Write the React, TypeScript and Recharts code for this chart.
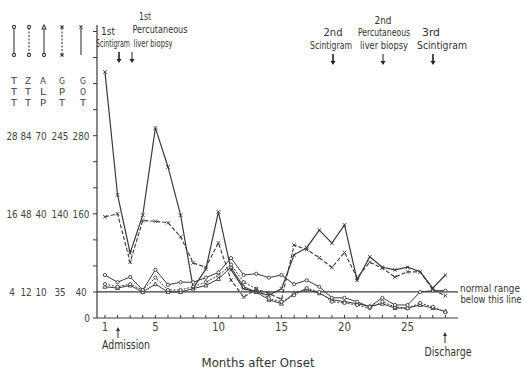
import React from 'react';
import { LineChart, Line, XAxis, YAxis, ReferenceLine } from 'recharts';

// Months after onset
const months = [1, 2, 3, 4, 5, 6, 7, 8, 9, 10, 11, 12, 13, 14, 15, 16, 17, 18, 19, 20, 21, 22, 23, 24, 25, 26, 27, 28];

// Values in their own units
const tttValues = [6.6, 5.5, 6.3, 4.3, 7.4, 5.1, 5.5, 5.5, 6.2, 7.0, 9.2, 6.6, 6.8, 6.2, 6.6, 5.2, 5.8, 4.8, 3.1, 3.1, 2.5, 1.7, 3.1, 2.0, 2.0, 4.0, 4.2, 4.2];
const zttValues = [15.6, 14.4, 15.6, 12.9, 18.6, 12.9, 12.9, 14.4, 16.5, 19.5, 24.6, 16.5, 13.5, 9.0, 7.5, 10.5, 13.8, 12.0, 7.5, 6.9, 6.0, 4.5, 7.5, 5.1, 4.5, 6.9, 5.1, 2.7];
const alpValues = [12, 11.5, 12.5, 10, 13, 10, 10, 11.3, 12.5, 15, 19.5, 12, 10, 7, 5.5, 9.5, 11, 9.5, 7, 6.3, 5.5, 4.5, 5.5, 3.8, 3.8, 5, 3.8, 2.5];
const gptValues = [136, 140, 75, 131, 130, 128, 109, 74, 68, 101, 51, 28, 39, 33, 25, 98, 92, 81, 68, 88, 54, 75, 67, 55, 62, 62, 38, 30];
const gotValues = [378, 189, 100, 158, 292, 232, 158, 46, 75, 163, 74, 45, 40, 35, 45, 97, 108, 135, 115, 143, 58, 94, 78, 74, 78, 71, 46, 66];

// Scale factors onto the common (GOT) axis: 4|12|10|35 -> 40
const tttFactor = 10;
const zttFactor = 40 / 12;
const alpFactor = 4;
const gptFactor = 40 / 35;

// Tick labels of the multi-scale y axis (columns TTT, ZTT, ALP, GPT, GOT)
const yTickRows: Record<number, string[]> = {
  0: ['', '', '', '', '0'],
  40: ['4', '12', '10', '35', '40'],
  160: ['16', '48', '40', '140', '160'],
  280: ['28', '84', '70', '245', '280'],
};
const yTicks = [0, 40, 80, 120, 160, 200, 240, 280, 320, 360, 400, 440];
const xLabels = [1, 5, 10, 15, 20, 25];
const legendCols = [
  ['T', 'T', 'T'],
  ['Z', 'T', 'T'],
  ['A', 'L', 'P'],
  ['G', 'P', 'T'],
  ['G', 'O', 'T'],
];

const data = months.map((m, i) => ({
  month: m,
  TTT: tttValues[i] * tttFactor,
  ZTT: zttValues[i] * zttFactor,
  ALP: alpValues[i] * alpFactor,
  GPT: gptValues[i] * gptFactor,
  GOT: gotValues[i],
}));

const INK = '#3a3a3a';
const FONT = "'DejaVu Sans Condensed', 'Liberation Sans Narrow', 'DejaVu Sans', sans-serif";
const colCenters = [12, 26, 41, 60, 81];

const YTick = (props: any) => {
  const { y, payload } = props;
  const row = yTickRows[payload.value];
  return (
    <g>
      <line x1={93} x2={97} y1={y} y2={y} stroke={INK} strokeWidth={1} />
      {row &&
        row.map((t, i) =>
          t ? (
            <text
              key={i}
              x={colCenters[i] + (i === 4 && payload.value === 0 ? 6 : 0)}
              y={y + 4}
              textAnchor="middle"
              fontSize={11}
              fontFamily={FONT}
              fill="#444"
              textLength={t.length * 5.6}
              lengthAdjust="spacingAndGlyphs"
            >
              {t}
            </text>
          ) : null
        )}
    </g>
  );
};

const XTick = (props: any) => {
  const { x, y, payload } = props;
  const label = String(payload.value);
  return (
    <g>
      <line x1={x} x2={x} y1={y} y2={y - 3} stroke={INK} strokeWidth={1} />
      {xLabels.includes(payload.value) && (
        <text x={x} y={y + 13} textAnchor="middle" fontSize={12} fontFamily={FONT} fill="#444" textLength={label.length * 6.5} lengthAdjust="spacingAndGlyphs">
          {label}
        </text>
      )}
    </g>
  );
};

const CircleDot = (props: any) => {
  const { cx, cy, index } = props;
  if (cx == null || cy == null) return <g key={index} />;
  return <circle key={index} cx={cx} cy={cy} r={1.6} fill="#fff" stroke={INK} strokeWidth={0.9} />;
};
const CrossDot = (props: any) => {
  const { cx, cy, index } = props;
  if (cx == null || cy == null) return <g key={index} />;
  const s = 1.8;
  return (
    <path key={index} d={`M${cx - s},${cy - s}L${cx + s},${cy + s}M${cx - s},${cy + s}L${cx + s},${cy - s}`} stroke={INK} strokeWidth={0.9} fill="none" />
  );
};
const TriDot = (props: any) => {
  const { cx, cy, index } = props;
  if (cx == null || cy == null) return <g key={index} />;
  return <path key={index} d={`M${cx},${cy - 2.2}L${cx + 2},${cy + 1.5}L${cx - 2},${cy + 1.5}Z`} stroke={INK} strokeWidth={0.9} fill="#fff" />;
};

const Txt = ({ x, y, w, size = 10, children }: any) => (
  <text x={x} y={y} textAnchor="middle" fontSize={size} fontFamily={FONT} fill="#333" textLength={w} lengthAdjust="spacingAndGlyphs">
    {children}
  </text>
);
const ArrowDown = ({ x, y1, y2, thick }: any) => (
  <g>
    <line x1={x} x2={x} y1={y1} y2={y2 - 3} stroke="#222" strokeWidth={thick ? 1.6 : 1} />
    <path d={`M${x - 2.5},${y2 - 4}L${x + 2.5},${y2 - 4}L${x},${y2}Z`} fill="#222" />
  </g>
);
const ArrowUp = ({ x, y1, y2 }: any) => (
  <g>
    <line x1={x} x2={x} y1={y1 + 3} y2={y2} stroke="#333" strokeWidth={1} />
    <path d={`M${x - 2},${y1 + 4}L${x + 2},${y1 + 4}L${x},${y1}Z`} fill="#333" />
  </g>
);

const Overlay = () => (
  <svg width={525} height={372} style={{ position: 'absolute', left: 0, top: 0, pointerEvents: 'none' }}>
    {/* legend symbols */}
    <g stroke={INK} strokeWidth={1.1} fill="#fff">
      <line x1={14} x2={14} y1={28} y2={54} />
      <circle cx={14} cy={27} r={1.6} />
      <circle cx={14} cy={55} r={1.6} />
      <line x1={29} x2={29} y1={28} y2={54} strokeDasharray="2 1.5" />
      <circle cx={29} cy={27} r={1.6} />
      <circle cx={29} cy={55} r={1.6} />
      <line x1={44} x2={44} y1={28} y2={54} />
      <path d="M44,25L46,29L42,29Z" />
      <circle cx={44} cy={55} r={1.6} />
      <line x1={62} x2={62} y1={28} y2={54} strokeDasharray="2 1.5" />
      <path d="M60.5,25.5L63.5,28.5M60.5,28.5L63.5,25.5M60.5,53.5L63.5,56.5M60.5,56.5L63.5,53.5" fill="none" />
      <line x1={81} x2={81} y1={27} y2={55} />
      <path d="M79.5,25.5L82.5,28.5M79.5,28.5L82.5,25.5" fill="none" />
    </g>
    {legendCols.map((col, i) =>
      col.map((ch, j) => (
        <text
          key={`${i}-${j}`}
          x={colCenters[i] + 2}
          y={84 + j * 11.2}
          textAnchor="middle"
          fontSize={9.5}
          fontFamily={FONT}
          fill="#444"
          textLength={6}
          lengthAdjust="spacingAndGlyphs"
        >
          {ch}
        </text>
      ))
    )}
    {/* top annotations */}
    <Txt x={108} y={35} w={14} size={11}>1st</Txt>
    <Txt x={113} y={47} w={34}>Scintigram</Txt>
    <ArrowDown x={119} y1={52} y2={63} thick />
    <Txt x={145} y={20} w={12} size={11}>1st</Txt>
    <Txt x={160} y={33} w={55}>Percutaneous</Txt>
    <Txt x={153} y={47} w={39}>liver biopsy</Txt>
    <ArrowDown x={132} y1={52} y2={63} />
    <Txt x={333} y={36} w={19} size={11}>2nd</Txt>
    <Txt x={331} y={49} w={42}>Scintigram</Txt>
    <ArrowDown x={333} y1={54} y2={65} thick />
    <Txt x={383} y={24} w={17} size={11}>2nd</Txt>
    <Txt x={384} y={36} w={52}>Percutaneous</Txt>
    <Txt x={384} y={49} w={48}>liver biopsy</Txt>
    <ArrowDown x={383} y1={54} y2={65} />
    <Txt x={431} y={36} w={18} size={11}>3rd</Txt>
    <Txt x={442} y={49} w={50}>Scintigram</Txt>
    <ArrowDown x={433} y1={54} y2={65} thick />
    {/* normal range note */}
    <Txt x={490} y={292} w={60} size={10}>normal range</Txt>
    <Txt x={491} y={303} w={61} size={10}>below this line</Txt>
    {/* bottom annotations */}
    <ArrowUp x={118} y1={327} y2={338} />
    <Txt x={126} y={349} w={48} size={12}>Admission</Txt>
    <ArrowUp x={445} y1={332} y2={343} />
    <Txt x={448} y={356} w={47} size={12}>Discharge</Txt>
    <Txt x={258} y={367} w={113} size={13}>Months after Onset</Txt>
  </svg>
);

export default function App() {
  return (
    <div style={{ position: 'absolute', left: 0, top: 0, width: 525, height: 372, background: '#fff' }}>
      <LineChart width={525} height={372} data={data} margin={{ top: 25, right: 67, bottom: 24, left: 0 }}>
        <XAxis
          dataKey="month"
          type="number"
          domain={[0.37, 29]}
          ticks={months}
          interval={0}
          height={30}
          tickSize={0}
          tickMargin={0}
          tick={<XTick />}
          axisLine={{ stroke: INK, strokeWidth: 1.2 }}
          allowDataOverflow
        />
        <YAxis
          type="number"
          domain={[0, 450]}
          ticks={yTicks}
          interval={0}
          width={97}
          tickSize={0}
          tickMargin={0}
          tick={<YTick />}
          axisLine={{ stroke: INK, strokeWidth: 1.2 }}
          allowDataOverflow
        />
        <ReferenceLine y={40} stroke={INK} strokeWidth={1.2} />
        <Line type="linear" dataKey="ALP" stroke={INK} strokeWidth={1} dot={TriDot} isAnimationActive={false} />
        <Line type="linear" dataKey="ZTT" stroke={INK} strokeWidth={1} strokeDasharray="2 1.5" dot={CircleDot} isAnimationActive={false} />
        <Line type="linear" dataKey="TTT" stroke={INK} strokeWidth={1} dot={CircleDot} isAnimationActive={false} />
        <Line type="linear" dataKey="GPT" stroke={INK} strokeWidth={1.1} strokeDasharray="4 2" dot={CrossDot} isAnimationActive={false} />
        <Line type="linear" dataKey="GOT" stroke={INK} strokeWidth={1.2} dot={CrossDot} isAnimationActive={false} />
      </LineChart>
      <Overlay />
    </div>
  );
}
